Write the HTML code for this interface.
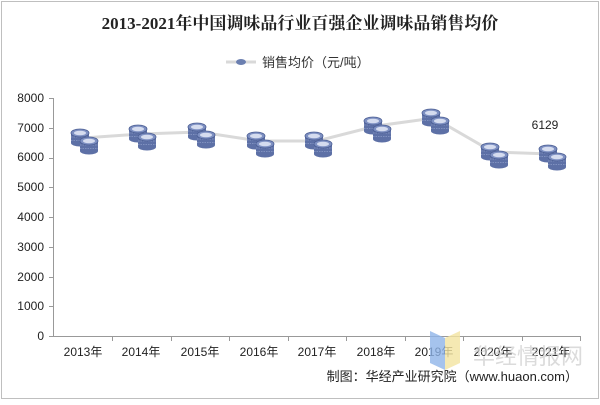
<!DOCTYPE html>
<html><head><meta charset="utf-8"><style>
body{margin:0;background:#fff;}
svg text{font-family:"Liberation Sans","Noto Sans CJK SC",sans-serif;}
</style></head><body>
<svg width="600" height="400" xmlns="http://www.w3.org/2000/svg">
<rect x="1.5" y="1.5" width="597" height="397" fill="#fff" stroke="#bfbfbf"/>
<text x="300" y="29" text-anchor="middle" font-size="17" font-weight="bold" fill="#222" style="font-family:'Liberation Serif','Noto Serif CJK SC',serif">2013-2021年中国调味品行业百强企业调味品销售均价</text>
<line x1="226" y1="62" x2="256" y2="62" stroke="#d9d9d9" stroke-width="3"/>
<ellipse cx="241" cy="62" rx="5" ry="3" fill="#6b7fb0"/>
<text x="262" y="67" font-size="13" fill="#333">销售均价（元/吨）</text>
<g font-size="12" fill="#222" text-anchor="end">
<text x="44" y="340">0</text><text x="44" y="310">1000</text><text x="44" y="281">2000</text><text x="44" y="251">3000</text><text x="44" y="221">4000</text><text x="44" y="191">5000</text><text x="44" y="161">6000</text><text x="44" y="132">7000</text><text x="44" y="102">8000</text>
</g>
<g stroke="#999" stroke-width="1">
<line x1="53.5" y1="98" x2="53.5" y2="336"/>
<line x1="53" y1="336.5" x2="580" y2="336.5"/>
<line x1="49" y1="98.5" x2="53" y2="98.5"/><line x1="49" y1="128.5" x2="53" y2="128.5"/><line x1="49" y1="158.5" x2="53" y2="158.5"/><line x1="49" y1="187.5" x2="53" y2="187.5"/><line x1="49" y1="217.5" x2="53" y2="217.5"/><line x1="49" y1="247.5" x2="53" y2="247.5"/><line x1="49" y1="277.5" x2="53" y2="277.5"/><line x1="49" y1="306.5" x2="53" y2="306.5"/><line x1="49" y1="336.5" x2="53" y2="336.5"/>
<line x1="112.5" y1="336" x2="112.5" y2="341"/><line x1="171.5" y1="336" x2="171.5" y2="341"/><line x1="229.5" y1="336" x2="229.5" y2="341"/><line x1="288.5" y1="336" x2="288.5" y2="341"/><line x1="346.5" y1="336" x2="346.5" y2="341"/><line x1="405.5" y1="336" x2="405.5" y2="341"/><line x1="463.5" y1="336" x2="463.5" y2="341"/><line x1="522.5" y1="336" x2="522.5" y2="341"/><line x1="580.5" y1="336" x2="580.5" y2="341"/>
</g>
<g font-size="12" fill="#222" text-anchor="middle">
<text x="83" y="356">2013年</text><text x="141" y="356">2014年</text><text x="200" y="356">2015年</text><text x="259" y="356">2016年</text><text x="317" y="356">2017年</text><text x="376" y="356">2018年</text><text x="434" y="356">2019年</text><text x="493" y="356">2020年</text><text x="551" y="356">2021年</text>
</g>
<polyline fill="none" stroke="#d9d9d9" stroke-width="3" points="83,138 141,134 200,132 259,141 317,141 376,126 434,118 493,152 551,154"/>
<defs>
<g id="k">
<rect x="-9" y="0" width="18" height="10" fill="#5d70a6"/><ellipse cx="0" cy="10" rx="9" ry="3.5" fill="#5d70a6"/>
<line x1="-9" y1="4" x2="9" y2="4" stroke="#8a9bc8" stroke-width="0.8" stroke-dasharray="1.5 1"/>
<line x1="-9" y1="7.5" x2="9" y2="7.5" stroke="#8a9bc8" stroke-width="0.8" stroke-dasharray="1.5 1"/>
<ellipse cx="0" cy="0" rx="9" ry="4" fill="#7e90c2" stroke="#4a5d93" stroke-width="0.8"/><ellipse cx="0" cy="0" rx="6" ry="2.3" fill="#d5dcef"/>
</g>
<g id="c"><use href="#k" x="-3" y="-5"/><use href="#k" x="6" y="3"/></g>
</defs>
<use href="#c" x="83" y="138"/><use href="#c" x="141" y="134"/><use href="#c" x="200" y="132"/><use href="#c" x="259" y="141"/><use href="#c" x="317" y="141"/><use href="#c" x="376" y="126"/><use href="#c" x="434" y="118"/><use href="#c" x="493" y="152"/><use href="#c" x="551" y="154"/>
<text x="545" y="129" font-size="12" fill="#222" text-anchor="middle">6129</text>
<polygon points="430,331 445,338 445,370 430,363" fill="#8fb4e8" opacity="0.8"/>
<polygon points="445,338 460,331 460,363 445,370" fill="#f3e3a0" opacity="0.8"/>
<text x="473" y="364" font-size="22" fill="#ccc" opacity="0.7">华经情报网</text>
<text x="578" y="381" font-size="13" fill="#222" text-anchor="end">制图：华经产业研究院（www.huaon.com）</text>
</svg>
</body></html>
